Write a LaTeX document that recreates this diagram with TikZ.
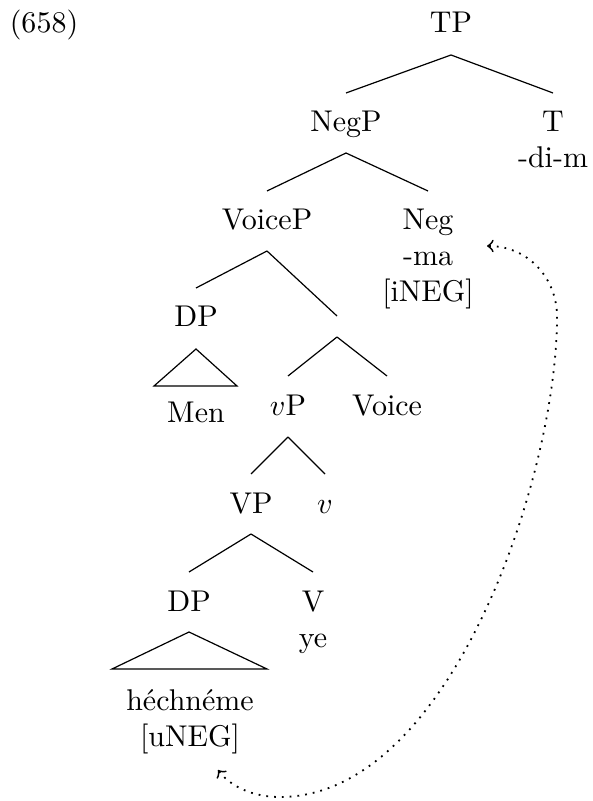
\documentclass[tikz,border=0pt]{standalone}
\usetikzlibrary{calc}
\begin{document}
\begin{tikzpicture}[x=0.3333pt,y=-0.3333pt,
  lab/.style={inner sep=0pt,anchor=base},
  treeline/.style={line width=0.4pt},
  movearrow/.style={dotted,semithick,<->}]
\useasboundingbox (0,0) rectangle (592,801);
% labels
\node[lab] (ex) at (44,33) {(658)};
\node[lab] (tp) at (451,33) {TP};
\node[lab] (negp) at (346,132) {NegP};
\node[lab] (t) at (553,132) {T};
\node[lab] (tdim) at (553,168) {-di-m};
\node[lab] (voicep) at (267,230) {VoiceP};
\node[lab] (neg) at (428,230) {Neg};
\node[lab] (negma) at (428,266) {-ma};
\node[lab] (ineg) at (428,302) {[iNEG]};
\node[lab] (dpa) at (196,327) {DP};
\coordinate (bar) at (337,316);
\node[lab] (men) at (196,423) {Men};
\node[lab] (vp) at (288,415) {$v$P};
\node[lab] (voice) at (387,415) {Voice};
\node[lab] (bigvp) at (251,513) {VP};
\node[lab] (lv) at (325,513) {$v$};
\node[lab] (dpb) at (189,611) {DP};
\node[lab] (verb) at (313,611) {V};
\node[lab] (ye) at (313,647) {ye};
\node[lab] (hech) at (190,710) {héchnéme};
\node[lab] (uneg) at (190,746) {[uNEG]};
% edges
\draw[treeline] ($(tp.base)+(0,22)$) -- ($(negp.base)+(0,-39)$);
\draw[treeline] ($(tp.base)+(0,22)$) -- ($(t.base)+(0,-39)$);
\draw[treeline] ($(negp.base)+(0,21)$) -- ($(voicep.base)+(0,-39)$);
\draw[treeline] ($(negp.base)+(0,21)$) -- ($(neg.base)+(0,-39)$);
\draw[treeline] ($(voicep.base)+(0,21)$) -- ($(dpa.base)+(0,-39)$);
\draw[treeline] ($(voicep.base)+(0,21)$) -- (bar);
\draw[treeline] ($(bar)+(0,21)$) -- ($(vp.base)+(0,-39)$);
\draw[treeline] ($(bar)+(0,21)$) -- ($(voice.base)+(0,-39)$);
\draw[treeline] ($(vp.base)+(0,22)$) -- ($(bigvp.base)+(0,-39)$);
\draw[treeline] ($(vp.base)+(0,22)$) -- ($(lv.base)+(0,-39)$);
\draw[treeline] ($(bigvp.base)+(0,21)$) -- ($(dpb.base)+(0,-39)$);
\draw[treeline] ($(bigvp.base)+(0,21)$) -- ($(verb.base)+(0,-39)$);
% triangles
\draw[treeline] ($(dpa.base)+(0,22)$) -- ($(dpa.base)+(-42,59)$) -- ($(dpa.base)+(41,59)$) -- cycle;
\draw[treeline] ($(dpb.base)+(0,21)$) -- ($(dpb.base)+(-77,58)$) -- ($(dpb.base)+(78,58)$) -- cycle;
% movement arrow
\coordinate (arrS) at ($(uneg.base)+(28,24)$);
\coordinate (arrE) at ($(negma.base)+(59,-20)$);
\draw[movearrow] (arrS) .. controls (232,788) and (255,797) .. (280,797)
  .. controls (450,797) and (557,477) .. (557,317)
  .. controls (557,277) and (527,246) .. (arrE);
\end{tikzpicture}
\end{document}
